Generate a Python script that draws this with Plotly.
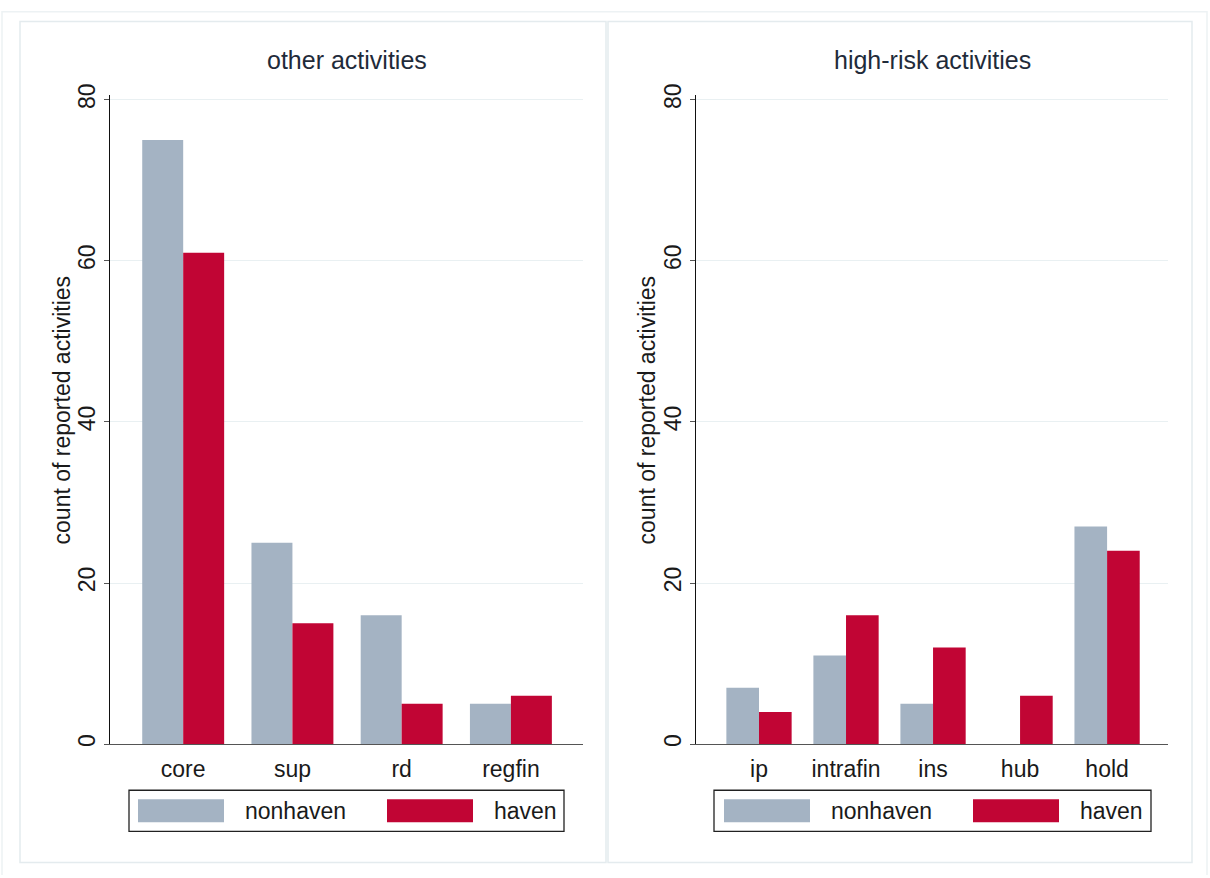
import plotly.graph_objects as go

# ---- data ----
other_cats = ["core", "sup", "rd", "regfin"]
other_nonhaven = [75, 25, 16, 5]
other_haven = [61, 15, 5, 6]

risk_cats = ["ip", "intrafin", "ins", "hub", "hold"]
risk_nonhaven = [7, 11, 5, 0, 27]
risk_haven = [4, 16, 12, 6, 24]

series_names = ["nonhaven", "haven"]
panel_titles = ["other activities", "high-risk activities"]
y_label = "count of reported activities"
y_ticks = [0, 20, 40, 60, 80]

# ---- style ----
W, H = 1210, 878
C_NON = "#A4B3C3"
C_HAV = "#C10534"
FONT = "Liberation Sans, Arial, sans-serif"
TXT = "#1a1a1a"
FRAME = "#E4EBEE"
GRID = "#E9F0F2"
FS = 23


def px(x):
    return x / W


def py(y):
    # target pixel row -> paper fraction (compensates the observed vertical offset)
    yy = (y - 11.4) / 0.982
    return min(1.0, max(0.0, 1 - yy / H))


fig = go.Figure()
fig.add_trace(go.Bar(x=other_cats, y=other_nonhaven, name=series_names[0],
                     marker=dict(color=C_NON, line=dict(width=0)),
                     xaxis="x", yaxis="y", showlegend=False))
fig.add_trace(go.Bar(x=other_cats, y=other_haven, name=series_names[1],
                     marker=dict(color=C_HAV, line=dict(width=0)),
                     xaxis="x", yaxis="y", showlegend=False))
fig.add_trace(go.Bar(x=risk_cats, y=risk_nonhaven, name=series_names[0],
                     marker=dict(color=C_NON, line=dict(width=0)),
                     xaxis="x2", yaxis="y2", showlegend=False))
fig.add_trace(go.Bar(x=risk_cats, y=risk_haven, name=series_names[1],
                     marker=dict(color=C_HAV, line=dict(width=0)),
                     xaxis="x2", yaxis="y2", showlegend=False))

y_dom = [py(743), py(95)]
yaxis_common = dict(
    range=[0, 80.6], tickvals=y_ticks, ticktext=[str(v) for v in y_ticks],
    tickangle=-90, ticks="outside", ticklen=5, tickcolor="#555",
    showline=True, linecolor="#111", linewidth=1.3,
    showgrid=True, gridcolor=GRID, gridwidth=1, zeroline=False,
    tickfont=dict(size=FS, color=TXT, family=FONT), domain=y_dom,
)
xaxis_common = dict(
    type="category", ticks="", showline=True, linecolor="#555", linewidth=1.3,
    showgrid=False, zeroline=False, ticklabelstandoff=4,
    tickfont=dict(size=FS, color=TXT, family=FONT),
)

fig.update_layout(
    width=W, height=H, margin=dict(l=0, r=0, t=0, b=0),
    paper_bgcolor="white", plot_bgcolor="white",
    barmode="group", bargap=0.25, bargroupgap=0,
    font=dict(family=FONT, color=TXT),
    xaxis=dict(domain=[px(110), px(583)], range=[-0.67, 3.66], anchor="y", **xaxis_common),
    yaxis=dict(anchor="x", **yaxis_common),
    xaxis2=dict(domain=[px(696), px(1168)], range=[-0.724, 4.70], anchor="y2", **xaxis_common),
    yaxis2=dict(anchor="x2", **yaxis_common),
)

shapes = []
# outer frame (left, top, right edges) and panel frames
shapes.append(dict(type="path", xref="paper", yref="paper",
                   path=f"M {px(2)},0 L {px(2)},0.999 L {px(1207)},0.999 L {px(1207)},0",
                   line=dict(color="#EDF2F4", width=1.5), layer="below"))
for (x0, x1) in [(20, 606), (608, 1192)]:
    shapes.append(dict(type="rect", xref="paper", yref="paper", x0=px(x0), x1=px(x1), y0=py(861), y1=py(22),
                       line=dict(color=FRAME, width=1.5), layer="below"))

annotations = []
# panel titles and y labels
for title, cx, ylx in [(panel_titles[0], 346.5, 62), (panel_titles[1], 932, 647)]:
    annotations.append(dict(text=title, xref="paper", yref="paper", x=px(cx), y=py(60),
                            showarrow=False, xanchor="center", yanchor="middle",
                            font=dict(size=25, color="#1F2B3A", family=FONT)))
    annotations.append(dict(text=y_label, xref="paper", yref="paper", x=px(ylx), y=py(410),
                            showarrow=False, textangle=-90, xanchor="center", yanchor="middle",
                            font=dict(size=FS, color=TXT, family=FONT)))

# legends (one per panel)
legend_specs = [
    dict(box=(129, 564), keys=[(138, 224, 243), (387, 473, 492)]),
    dict(box=(714, 1151), keys=[(724, 810, 829), (973, 1059, 1078)]),
]
for spec in legend_specs:
    bx0, bx1 = spec["box"]
    shapes.append(dict(type="rect", xref="paper", yref="paper", x0=px(bx0), x1=px(bx1),
                       y0=py(830), y1=py(789), line=dict(color="#222", width=1.3),
                       fillcolor="white"))
    for (k0, k1, tx), name, col in zip(spec["keys"], series_names, [C_NON, C_HAV]):
        shapes.append(dict(type="rect", xref="paper", yref="paper", x0=px(k0), x1=px(k1),
                           y0=py(821), y1=py(798), line=dict(width=0), fillcolor=col))
        annotations.append(dict(text=name, xref="paper", yref="paper", x=px(tx), y=py(810),
                                showarrow=False, xanchor="left", yanchor="middle",
                                font=dict(size=FS, color=TXT, family=FONT)))

fig.update_layout(shapes=shapes, annotations=annotations)
fig.write_html(
    "out.html",
    config={"displayModeBar": False},
    post_script="document.body.style.margin='0px';document.body.style.overflow='hidden';",
)
